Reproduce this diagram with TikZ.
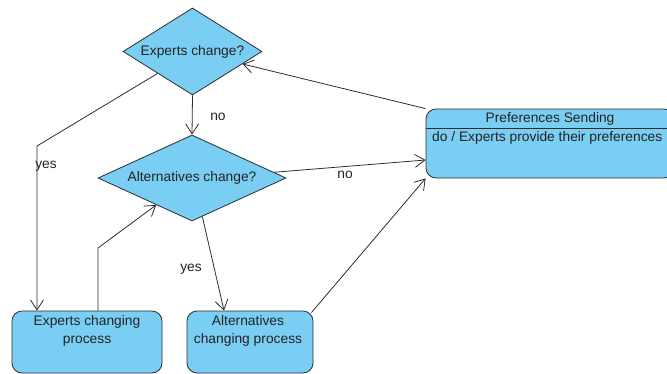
\documentclass[tikz,border=0pt]{standalone}
\usepackage{fontspec}
\setmainfont{Liberation Sans}
\usetikzlibrary{shapes.geometric,arrows.meta,calc}
\definecolor{stfill}{RGB}{122,206,243}
\definecolor{stline}{RGB}{45,45,45}
\definecolor{txt}{RGB}{35,35,35}
\begin{document}
\begin{tikzpicture}[x=1pt,y=-1pt,
  every node/.style={font=\fontsize{13.8}{18}\selectfont, text=txt},
  dec/.style={diamond, draw=stline, fill=stfill, inner sep=0pt, line width=0.8pt},
  stbox/.style={rectangle, rounded corners=10pt, draw=stline, fill=stfill, line width=0.8pt},
  conn/.style={draw=stline, line width=0.8pt, -{Straight Barb[length=10pt,width=13pt]}},
  lbl/.style={inner sep=0pt}]
\useasboundingbox (0,0) rectangle (667,373);
% decisions
\node[dec, minimum width=139pt, minimum height=87pt, shape aspect=1.6] (d1) at (192.5,51.5) {Experts change?};
\node[dec, minimum width=188pt, minimum height=86pt, shape aspect=2.19] (d2) at (192,178) {Alternatives change?};
% states
\node[stbox, minimum width=150pt, minimum height=62pt] (ep) at (87,342) {};
\node[lbl, align=center] (ept) at (87,331) {Experts changing\\process};
\node[stbox, minimum width=126pt, minimum height=62pt] (ap) at (250,342) {};
\node[lbl, align=center] (apt) at (248,331) {Alternatives\\changing process};
\node[stbox, minimum width=248pt, minimum height=69pt] (pref) at (550,143.5) {};
\draw[stline, line width=0.8pt] (426,128) -- (674,128);
\node[lbl] (preft) at (550,119) {Preferences Sending};
\node[lbl, anchor=west] (prefd) at (432,138) {do / Experts provide their preferences};
% connectors
\coordinate (c1) at (37,146);
\draw[conn] (d1.south west) -- (c1) -- (c1 |- ep.north);
\draw[conn] (d1.south) -- (d2.north);
\draw[conn] (pref.north west) -- (d1.-14);
\draw[conn] (d2.4) -- ([yshift=-16.5pt]pref.west);
\draw[conn] (d2.-75) -- ([xshift=-26pt]ap.north);
\coordinate (c2) at (98,248);
\draw[conn] ([xshift=11pt]ep.north) -- (c2) -- (d2.217);
\draw[conn] ([shift={(-2pt,-2pt)}]ap.north east) -- (pref.south west);
% labels
\node[lbl] (l1) at (218,117) {no};
\node[lbl] (l2) at (345,175) {no};
\node[lbl] (l3) at (191,269) {yes};
\node[lbl] (l4) at (46,166) {yes};
\end{tikzpicture}
\end{document}
